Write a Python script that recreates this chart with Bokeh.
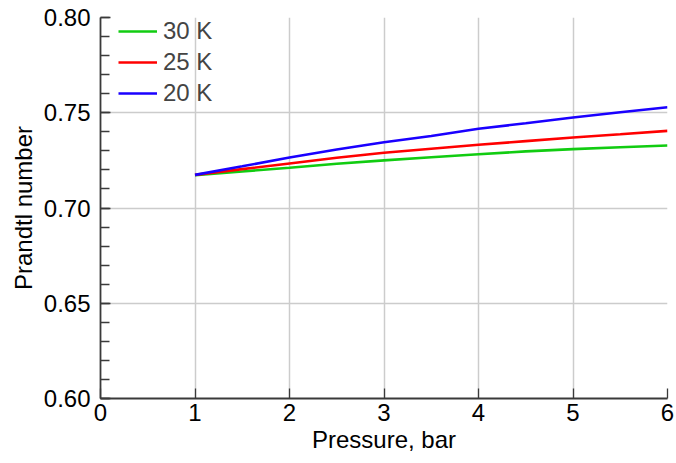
from bokeh.plotting import figure
from bokeh.models import Range1d, FixedTicker, Legend, LegendItem, NumeralTickFormatter
from bokeh.embed import file_html
from bokeh.resources import INLINE

pressure = [1.0, 1.5, 2.0, 2.5, 3.0, 3.5, 4.0, 4.5, 5.0, 5.5, 6.0]
pr_30K = [0.7172, 0.7192, 0.7211, 0.7232, 0.7250, 0.7266, 0.7282, 0.7297, 0.7309, 0.7319, 0.7328]
pr_25K = [0.7174, 0.7204, 0.7234, 0.7264, 0.7290, 0.7311, 0.7332, 0.7351, 0.7370, 0.7387, 0.7405]
pr_20K = [0.7174, 0.7219, 0.7265, 0.7307, 0.7345, 0.7378, 0.7416, 0.7445, 0.7475, 0.7503, 0.7529]
series_labels = ["30 K", "25 K", "20 K"]
series_colors = ["#11cc11", "#ff0000", "#1a00ff"]
x_ticks = [0, 1, 2, 3, 4, 5, 6]
y_ticks = [0.60, 0.65, 0.70, 0.75, 0.80]
y_minor = [round(0.60 + 0.01 * i, 2) for i in range(21)]

FONT = "Liberation Sans"
FS = "24px"

p = figure(width=674, height=461, output_backend="svg", toolbar_location=None,
           x_range=Range1d(0, 6), y_range=Range1d(0.60, 0.80),
           min_border_left=100, min_border_right=7, min_border_top=17, min_border_bottom=63)
p.outline_line_color = None
p.background_fill_color = "white"

lines = []
for ys, c in zip([pr_30K, pr_25K, pr_20K], series_colors):
    lines.append(p.line(pressure, ys, line_color=c, line_width=2.6))

for ax in (p.xaxis[0], p.yaxis[0]):
    ax.axis_line_color = "#3a3a3a"
    ax.axis_line_width = 1.8
    ax.major_tick_line_color = "#3a3a3a"
    ax.major_tick_line_width = 1.3
    ax.major_tick_in = 10
    ax.major_tick_out = 0
    ax.minor_tick_line_color = "#3a3a3a"
    ax.minor_tick_line_width = 1.3
    ax.minor_tick_in = 9
    ax.minor_tick_out = 0
    ax.major_label_text_font = FONT
    ax.major_label_text_font_size = FS
    ax.major_label_text_color = "black"
    ax.axis_label_text_font = FONT
    ax.axis_label_text_font_size = FS
    ax.axis_label_text_font_style = "normal"
    ax.axis_label_text_color = "black"

p.xaxis.ticker = FixedTicker(ticks=x_ticks)
p.yaxis.ticker = FixedTicker(ticks=y_ticks, minor_ticks=y_minor)
p.yaxis.formatter = NumeralTickFormatter(format="0.00")
p.xaxis.major_label_standoff = 5
p.yaxis.major_label_standoff = 10
p.xaxis.axis_label = "Pressure, bar"
p.yaxis.axis_label = "Prandtl number"
p.xaxis.axis_label_standoff = 2
p.yaxis.axis_label_standoff = 4

p.xgrid.ticker = FixedTicker(ticks=x_ticks)
p.ygrid.ticker = FixedTicker(ticks=y_ticks)
p.grid.grid_line_color = "#cccccc"
p.grid.grid_line_width = 1.5

legend = Legend(items=[LegendItem(label=l, renderers=[r]) for l, r in zip(series_labels, lines)],
                location=(18, 291), border_line_color=None, background_fill_alpha=0,
                padding=0, margin=0, spacing=3, glyph_width=39, glyph_height=28,
                label_standoff=6, label_text_font=FONT, label_text_font_size=FS,
                label_height=28)
p.add_layout(legend)

open("out.html", "w").write(file_html(p, INLINE))
